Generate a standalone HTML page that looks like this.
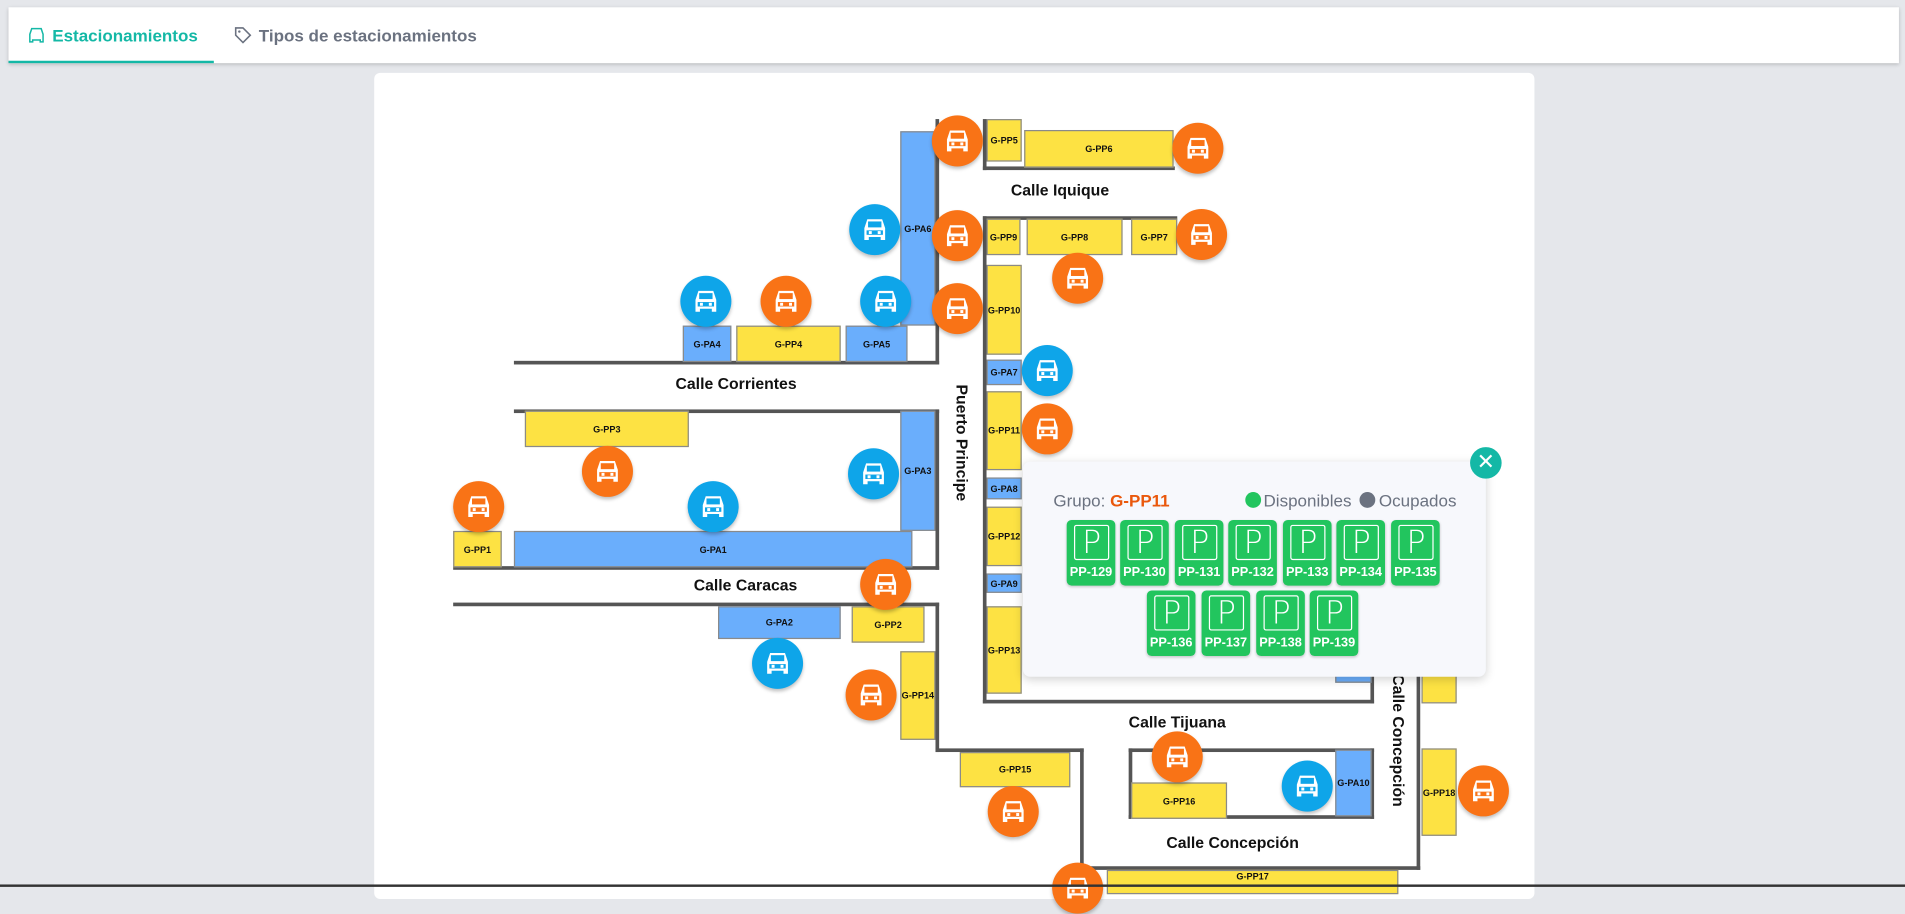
<!DOCTYPE html>
<html><head><meta charset="utf-8"><style>
html,body{margin:0;padding:0;width:1905px;height:887px;overflow:hidden;background:#e5e7eb;font-family:"Liberation Sans",sans-serif}
#s{position:absolute;left:0;top:0;width:1568px;height:730px;transform:scale(1.21492);transform-origin:0 0}
.hdr{position:absolute;left:7px;top:6px;width:1556px;height:46px;background:#fff;box-shadow:0 1px 3px rgba(0,0,0,.2)}
.tab{position:absolute;top:15px;font-size:14px;font-weight:bold;color:#6b7280}
.card{position:absolute;left:308px;top:60px;width:955px;height:680px;background:#fff;border-radius:5px}
.b{position:absolute;border:1px solid #8a8a8a;box-sizing:border-box;font-size:7.5px;font-weight:bold;display:flex;align-items:center;justify-content:center;color:#111;white-space:nowrap;overflow:hidden}
.y{background:#fde243}.u{background:#6aaefc}
.l{position:absolute;background:#555}
.c{position:absolute;width:42px;height:42px;border-radius:50%;box-shadow:0 2px 3px rgba(0,0,0,.25);display:flex;align-items:center;justify-content:center}
.c svg{width:22px;height:22px}
.o{background:#f97316}.bl{background:#0ea5e9}
.t{position:absolute;font-size:13px;font-weight:bold;color:#111;white-space:nowrap}
.p{position:absolute;width:40px;height:54px;background:#22c55e;border-radius:4px;box-shadow:0 1px 2px rgba(0,0,0,.2)}
.p .q{position:absolute;left:6px;top:4px;width:27px;height:27px;border:1.2px solid #fff;border-radius:2px;color:#fff;font-size:26px;line-height:28px;text-align:center;font-family:"DejaVu Sans",sans-serif;font-weight:200}
.p .n{position:absolute;left:0;right:0;top:37px;text-align:center;color:#fff;font-size:10.5px;font-weight:bold}
</style></head><body>
<svg width="0" height="0" style="position:absolute"><defs><g id="car"><path d="M4 2h10l2 6v8h-3v-2H5v2H2V8z" fill="#fff"/><rect x="4.5" y="3.5" width="9" height="4" fill="currentColor"/><rect x="3.5" y="9.5" width="11" height="3" fill="currentColor"/><rect x="5" y="10" width="2" height="2" fill="#fff"/><rect x="11" y="10" width="2" height="2" fill="#fff"/></g></defs></svg>
<div id="s">
<div class="hdr">
<div style="position:absolute;left:0;top:44px;width:169px;height:2px;background:#14b8a6"></div>
<svg style="position:absolute;left:16px;top:16px" width="14" height="14" viewBox="0 0 18 18"><path d="M4 2h10l2 6v8h-3v-2H5v2H2V8z" fill="none" stroke="#14b8a6" stroke-width="1.6"/></svg>
<div class="tab" style="left:36px;color:#14b8a6">Estacionamientos</div>
<svg style="position:absolute;left:186px;top:16px" width="14" height="14" viewBox="0 0 14 14"><path d="M1 1h6l6 6-6 6-6-6z" fill="none" stroke="#6b7280" stroke-width="1.3"/><circle cx="4" cy="4" r="1" fill="#6b7280"/></svg>
<div class="tab" style="left:206px">Tipos de estacionamientos</div>
</div>
<div class="card"></div>

<div class="l" style="left:423px;top:297px;width:350px;height:3px"></div>
<div class="l" style="left:770px;top:98px;width:3px;height:202px"></div>
<div class="l" style="left:423px;top:337px;width:350px;height:3px"></div>
<div class="l" style="left:770px;top:337px;width:3px;height:132px"></div>
<div class="l" style="left:373px;top:466px;width:400px;height:3px"></div>
<div class="l" style="left:373px;top:496px;width:400px;height:3px"></div>
<div class="l" style="left:770px;top:496px;width:3px;height:123px"></div>
<div class="l" style="left:770px;top:616px;width:122px;height:3px"></div>
<div class="l" style="left:889px;top:616px;width:3px;height:100px"></div>
<div class="l" style="left:889px;top:713px;width:280px;height:3px"></div>
<div class="l" style="left:1166px;top:540px;width:3px;height:176px"></div>
<div class="l" style="left:809px;top:98px;width:3px;height:42px"></div>
<div class="l" style="left:809px;top:137px;width:158px;height:3px"></div>
<div class="l" style="left:809px;top:178px;width:160px;height:3px"></div>
<div class="l" style="left:809px;top:178px;width:3px;height:401px"></div>
<div class="l" style="left:809px;top:576px;width:322px;height:3px"></div>
<div class="l" style="left:1128px;top:540px;width:3px;height:39px"></div>
<div class="l" style="left:929px;top:616px;width:202px;height:3px"></div>
<div class="l" style="left:929px;top:616px;width:3px;height:58px"></div>
<div class="l" style="left:1128px;top:616px;width:3px;height:58px"></div>
<div class="l" style="left:929px;top:671px;width:202px;height:3px"></div>

<div class="b y" style="left:812px;top:98px;width:29px;height:35px">G-PP5</div>
<div class="b y" style="left:843px;top:107px;width:123px;height:31px">G-PP6</div>
<div class="b y" style="left:812px;top:180px;width:28px;height:30px">G-PP9</div>
<div class="b y" style="left:845px;top:180px;width:79px;height:30px">G-PP8</div>
<div class="b y" style="left:931px;top:180px;width:38px;height:30px">G-PP7</div>
<div class="b y" style="left:812px;top:218px;width:29px;height:74px">G-PP10</div>
<div class="b u" style="left:812px;top:296px;width:29px;height:21px">G-PA7</div>
<div class="b y" style="left:812px;top:322px;width:29px;height:65px">G-PP11</div>
<div class="b u" style="left:812px;top:393px;width:29px;height:18px">G-PA8</div>
<div class="b y" style="left:812px;top:417px;width:29px;height:49px">G-PP12</div>
<div class="b u" style="left:812px;top:472px;width:29px;height:16px">G-PA9</div>
<div class="b y" style="left:812px;top:499px;width:29px;height:72px">G-PP13</div>
<div class="b u" style="left:741px;top:108px;width:29px;height:160px">G-PA6</div>
<div class="b u" style="left:696px;top:268px;width:51px;height:30px">G-PA5</div>
<div class="b y" style="left:606px;top:268px;width:86px;height:30px">G-PP4</div>
<div class="b u" style="left:562px;top:268px;width:40px;height:30px">G-PA4</div>
<div class="b y" style="left:432px;top:338px;width:135px;height:30px">G-PP3</div>
<div class="b u" style="left:741px;top:338px;width:29px;height:99px">G-PA3</div>
<div class="b u" style="left:423px;top:437px;width:328px;height:30px">G-PA1</div>
<div class="b y" style="left:373px;top:437px;width:40px;height:30px">G-PP1</div>
<div class="b u" style="left:591px;top:499px;width:101px;height:27px">G-PA2</div>
<div class="b y" style="left:701px;top:499px;width:60px;height:30px">G-PP2</div>
<div class="b y" style="left:741px;top:536px;width:29px;height:73px">G-PP14</div>
<div class="b y" style="left:790px;top:619px;width:91px;height:29px">G-PP15</div>
<div class="b y" style="left:931px;top:644px;width:79px;height:30px">G-PP16</div>
<div class="b u" style="left:1099px;top:617px;width:30px;height:55px">G-PA10</div>
<div class="b u" style="left:1099px;top:540px;width:30px;height:22px"></div>
<div class="b y" style="left:1170px;top:616px;width:29px;height:72px">G-PP18</div>
<div class="b y" style="left:1170px;top:540px;width:29px;height:39px"></div>
<div class="b y" style="left:911px;top:716px;width:240px;height:20px;align-items:flex-start">G-PP17</div>

<div class="t" style="left:556px;top:308px">Calle Corrientes</div>
<div class="t" style="left:571px;top:474px">Calle Caracas</div>
<div class="t" style="left:832px;top:149px">Calle Iquique</div>
<div class="t" style="left:929px;top:587px">Calle Tijuana</div>
<div class="t" style="left:960px;top:686px">Calle Concepción</div>
<div class="t" style="left:742px;top:357px;transform:rotate(90deg);transform-origin:50% 50%;width:100px;text-align:center">Puerto Principe</div>
<div class="t" style="left:1096px;top:602px;transform:rotate(90deg);width:110px;text-align:center">Calle Concepción</div>

<div class="c o" style="left:767px;top:95px"><svg viewBox="0 0 18 18" style="color:#f97316"><use href="#car"/></svg></div>
<div class="c o" style="left:965px;top:101px"><svg viewBox="0 0 18 18" style="color:#f97316"><use href="#car"/></svg></div>
<div class="c o" style="left:767px;top:173px"><svg viewBox="0 0 18 18" style="color:#f97316"><use href="#car"/></svg></div>
<div class="c o" style="left:968px;top:172px"><svg viewBox="0 0 18 18" style="color:#f97316"><use href="#car"/></svg></div>
<div class="c o" style="left:866px;top:208px"><svg viewBox="0 0 18 18" style="color:#f97316"><use href="#car"/></svg></div>
<div class="c o" style="left:767px;top:233px"><svg viewBox="0 0 18 18" style="color:#f97316"><use href="#car"/></svg></div>
<div class="c o" style="left:626px;top:227px"><svg viewBox="0 0 18 18" style="color:#f97316"><use href="#car"/></svg></div>
<div class="c o" style="left:841px;top:332px"><svg viewBox="0 0 18 18" style="color:#f97316"><use href="#car"/></svg></div>
<div class="c o" style="left:479px;top:367px"><svg viewBox="0 0 18 18" style="color:#f97316"><use href="#car"/></svg></div>
<div class="c o" style="left:373px;top:396px"><svg viewBox="0 0 18 18" style="color:#f97316"><use href="#car"/></svg></div>
<div class="c o" style="left:708px;top:460px"><svg viewBox="0 0 18 18" style="color:#f97316"><use href="#car"/></svg></div>
<div class="c o" style="left:696px;top:551px"><svg viewBox="0 0 18 18" style="color:#f97316"><use href="#car"/></svg></div>
<div class="c o" style="left:948px;top:602px"><svg viewBox="0 0 18 18" style="color:#f97316"><use href="#car"/></svg></div>
<div class="c o" style="left:813px;top:647px"><svg viewBox="0 0 18 18" style="color:#f97316"><use href="#car"/></svg></div>
<div class="c o" style="left:1200px;top:630px"><svg viewBox="0 0 18 18" style="color:#f97316"><use href="#car"/></svg></div>
<div class="c o" style="left:866px;top:710px"><svg viewBox="0 0 18 18" style="color:#f97316"><use href="#car"/></svg></div>
<div class="c bl" style="left:699px;top:168px"><svg viewBox="0 0 18 18" style="color:#0ea5e9"><use href="#car"/></svg></div>
<div class="c bl" style="left:560px;top:227px"><svg viewBox="0 0 18 18" style="color:#0ea5e9"><use href="#car"/></svg></div>
<div class="c bl" style="left:708px;top:227px"><svg viewBox="0 0 18 18" style="color:#0ea5e9"><use href="#car"/></svg></div>
<div class="c bl" style="left:841px;top:284px"><svg viewBox="0 0 18 18" style="color:#0ea5e9"><use href="#car"/></svg></div>
<div class="c bl" style="left:698px;top:369px"><svg viewBox="0 0 18 18" style="color:#0ea5e9"><use href="#car"/></svg></div>
<div class="c bl" style="left:566px;top:396px"><svg viewBox="0 0 18 18" style="color:#0ea5e9"><use href="#car"/></svg></div>
<div class="c bl" style="left:619px;top:525px"><svg viewBox="0 0 18 18" style="color:#0ea5e9"><use href="#car"/></svg></div>
<div class="c bl" style="left:1055px;top:626px"><svg viewBox="0 0 18 18" style="color:#0ea5e9"><use href="#car"/></svg></div>

<div style="position:absolute;left:842px;top:380px;width:381px;height:177px;background:#f7f8fc;border-radius:6px;box-shadow:0 2px 8px rgba(0,0,0,.18)">
<div style="position:absolute;left:25px;top:24px;font-size:14px;color:#6b7280">Grupo: <b style="color:#ea580c">G-PP11</b></div>
<div style="position:absolute;left:183px;top:25px;width:13px;height:13px;border-radius:50%;background:#22c55e"></div>
<div style="position:absolute;left:198px;top:24px;font-size:14px;color:#6b7280">Disponibles</div>
<div style="position:absolute;left:277px;top:25px;width:13px;height:13px;border-radius:50%;background:#6b7280"></div>
<div style="position:absolute;left:293px;top:24px;font-size:14px;color:#6b7280">Ocupados</div>
</div>
<div style="position:absolute;left:1210px;top:368px;width:26px;height:26px;border-radius:50%;background:#14b8a6;color:#fff;font-size:18px;line-height:26px;text-align:center;font-family:'DejaVu Sans',sans-serif">✕</div>

<div class="p" style="left:878px;top:428px"><div class="q">P</div><div class="n">PP-129</div></div>
<div class="p" style="left:922px;top:428px"><div class="q">P</div><div class="n">PP-130</div></div>
<div class="p" style="left:967px;top:428px"><div class="q">P</div><div class="n">PP-131</div></div>
<div class="p" style="left:1011px;top:428px"><div class="q">P</div><div class="n">PP-132</div></div>
<div class="p" style="left:1056px;top:428px"><div class="q">P</div><div class="n">PP-133</div></div>
<div class="p" style="left:1100px;top:428px"><div class="q">P</div><div class="n">PP-134</div></div>
<div class="p" style="left:1145px;top:428px"><div class="q">P</div><div class="n">PP-135</div></div>
<div class="p" style="left:944px;top:486px"><div class="q">P</div><div class="n">PP-136</div></div>
<div class="p" style="left:989px;top:486px"><div class="q">P</div><div class="n">PP-137</div></div>
<div class="p" style="left:1034px;top:486px"><div class="q">P</div><div class="n">PP-138</div></div>
<div class="p" style="left:1078px;top:486px"><div class="q">P</div><div class="n">PP-139</div></div>
<div style="position:absolute;left:0;top:728px;width:1568px;height:2px;background:#333"></div>
</div>
</body></html>
